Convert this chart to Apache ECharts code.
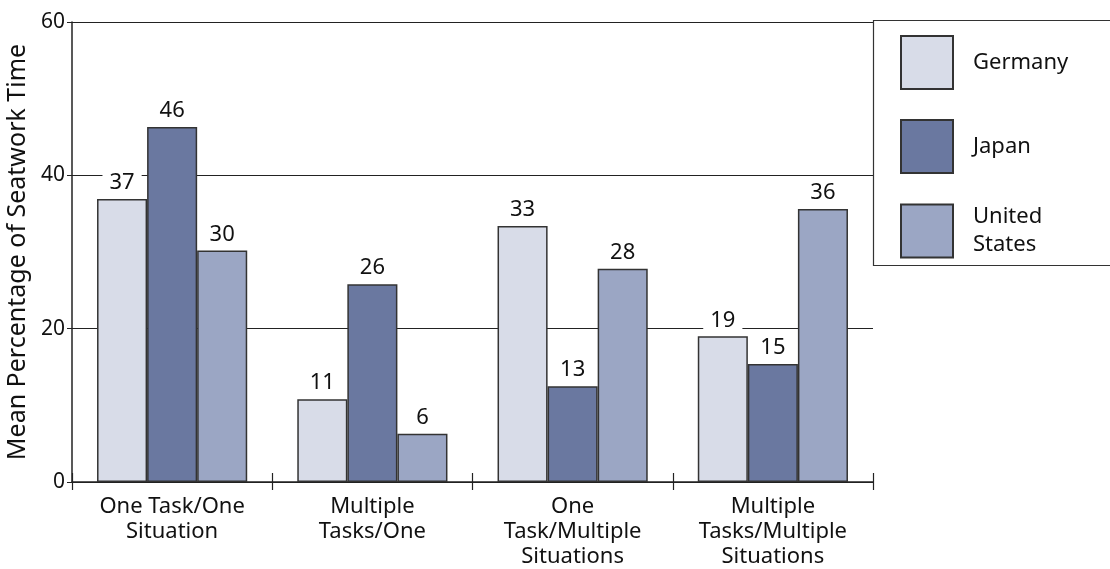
<!DOCTYPE html>
<html>
	<head>
		<meta charset="UTF-8">
		<title>Seatwork Time</title>
		<style>
			html,body{margin:0;padding:0;background:#fff;}
		</style>
	</head>
	<body>
		<div id="main" style="width:1110px;height:569px;"></div>
	</body>
	<script type="text/javascript" src="https://cdn.jsdelivr.net/npm/echarts@6/dist/echarts.min.js"></script>
	<script>
	var categories=['One Task/One\nSituation','Multiple\nTasks/One','One\nTask/Multiple\nSituations','Multiple\nTasks/Multiple\nSituations'];
	var germany=[36.9,10.8,33.4,19.0];
	var japan=[46.3,25.8,12.5,15.4];
	var unitedStates=[30.2,6.3,27.8,35.6];
	var yTicks=[0,20,40,60];

	var font='"Noto Sans", "Open Sans", sans-serif';
	var ink='#222';

	function bar(name,data,color){
		return {
			name:name,
			type:'bar',
			data:data,
			barGap:0,
			barCategoryGap:'25%',
			itemStyle:{color:color,borderColor:'#333',borderWidth:1.5},
			label:{
				show:true,
				position:'top',
				distance:5,
				color:'#111',
				fontFamily:font,
				fontSize:22,
				backgroundColor:'#fff',
				padding:[1,7,0,7],
				formatter:function(p){return Math.round(p.value);}
			}
		};
	}

	var myChart=echarts.init(document.getElementById('main'));
	var option={
		animation:false,
		textStyle:{fontFamily:font},
		grid:{left:72,top:22,right:237,bottom:87,outerBoundsMode:'none'},
		legend:{
			orient:'vertical',
			left:895,
			top:30,
			itemWidth:52,
			itemHeight:53,
			itemGap:29,
			icon:'rect',
			textStyle:{fontFamily:font,fontSize:22,color:'#111',lineHeight:28,padding:[0,0,0,15]},
			data:['Germany','Japan','United States'],
			formatter:function(n){return n==='United States'?'United\nStates':n;}
		},
		graphic:[{
			type:'rect',
			shape:{x:873.5,y:20.5,width:240,height:245},
			style:{fill:'none',stroke:'#333',lineWidth:1.2},
			silent:true
		}],
		xAxis:[{
			type:'category',
			data:categories,
			position:'bottom',
			axisLine:{lineStyle:{color:ink,width:1.5}},
			axisTick:{show:true,length:8,lineStyle:{color:ink,width:1.2}},
			axisLabel:{color:'#111',fontFamily:font,fontSize:22,lineHeight:25,margin:12,interval:0}
		},{
			type:'category',
			data:categories,
			position:'bottom',
			axisLine:{show:false},
			axisTick:{show:true,inside:true,length:9,lineStyle:{color:ink,width:1.2}},
			axisLabel:{show:false}
		}],
		yAxis:{
			type:'value',
			min:yTicks[0],
			max:yTicks[yTicks.length-1],
			interval:20,
			name:'Mean Percentage of Seatwork Time',
			nameLocation:'middle',
			nameGap:36,
			nameTextStyle:{fontFamily:font,fontSize:25,color:'#111'},
			axisLine:{show:true,lineStyle:{color:ink,width:1.5}},
			axisTick:{show:true,length:5,lineStyle:{color:ink}},
			axisLabel:{color:'#111',fontFamily:font,fontSize:21,margin:7},
			splitLine:{show:true,lineStyle:{color:ink,width:1.2}}
		},
		series:[
			bar('Germany',germany,'#d8dce8'),
			bar('Japan',japan,'#6a78a0'),
			bar('United States',unitedStates,'#9ba6c4')
		]
	};
	myChart.setOption(option);
	</script>
</html>
